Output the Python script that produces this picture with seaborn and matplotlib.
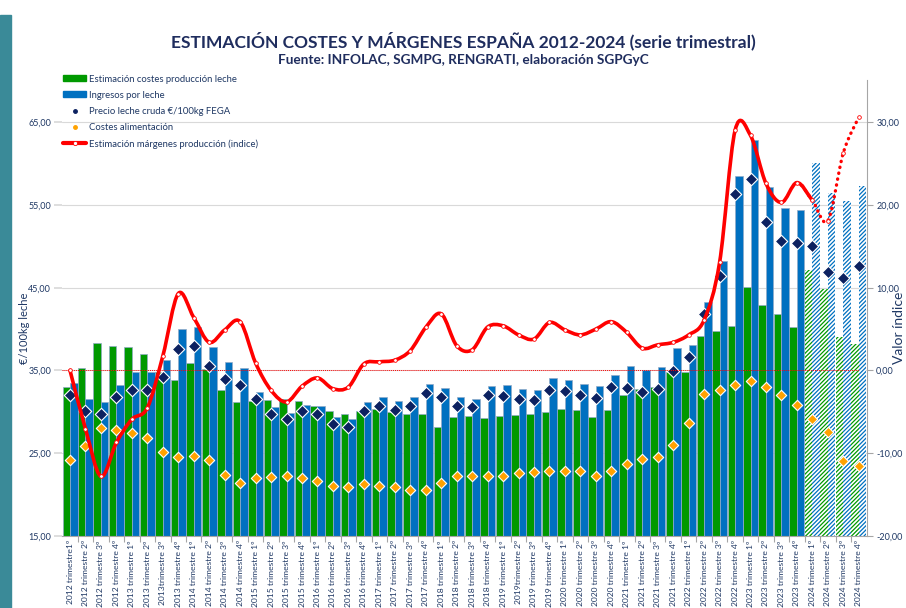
import numpy as np
import pandas as pd
import matplotlib
matplotlib.use('Agg')
import matplotlib.pyplot as plt
import seaborn as sns
from matplotlib.path import Path
from matplotlib.patches import PathPatch, Patch, Rectangle
from matplotlib.lines import Line2D
from matplotlib.ticker import FuncFormatter, FixedLocator

# datos trimestrales
trimestres = [
    '2012 trimestre1º', '2012 trimestre 2º', '2012 trimestre 3º', '2012 trimestre 4º',
    '2013 trimestre 1º', '2013 trimestre 2º', '2013trimestre 3º', '2013 trimestre 4º',
    '2014 trimestre 1º', '2014 trimestre 2º', '2014 trimestre 3º', '2014 trimestre 4º',
    '2015 trimestre 1º', '2015 trimestre 2º', '2015 trimestre 3º', '2015 trimestre 4º',
    '2016 trimestre 1º', '2016 trimestre 2º', '2016 trimestre 3º', '2016 trimestre 4º',
    '2017 trimestre 1º', '2017 trimestre 2º', '2017 trimestre 3º', '2017 trimestre 4º',
    '2018 trimestre 1º', '2018 trimestre 2º', '2018 trimestre 3º', '2018 trimestre 4º',
    '2019 trimestre 1º', '2019trimestre 2º', '2019 trimestre 3º', '2019 trimestre 4º',
    '2020 trimestre 1ª', '2020 trimestre 2º', '2020 trimestre 3º', '2020 trimestre 4º',
    '2021 trimestre 1º', '2021 trimestre 2º', '2021 trimestre 3º', '2021 trimestre 4º',
    '2022 trimestre 1º', '2022 trimestre 2º', '2022 trimestre 3º', '2022 trimestre 4º',
    '2023 trimestre 1º', '2023 trimestre 2º', '2023 trimestre 3º', '2023 trimestre 4º',
    '2024 trimestre 1º', '2024 trimestre 2º', '2024 trimestre 3º', '2024 trimestre 4º',
]

costes_produccion = [
    33.0, 35.3, 38.3, 37.9, 37.8, 37.0, 34.8, 33.8, 35.9, 35.2, 32.6, 31.2,
    31.3, 31.4, 31.5, 31.3, 30.7, 30.15, 29.8, 30.15, 30.4, 30.0, 29.8, 29.7,
    28.2, 29.35, 29.5, 29.3, 29.5, 29.6, 29.8, 30.0, 30.4, 30.2, 29.4, 30.2,
    32.0, 32.8, 33.0, 34.8, 34.85, 39.2, 39.8, 40.4, 45.05, 42.9, 41.8, 40.25,
    47.15, 44.85, 39.0, 38.2,
]
ingresos_leche = [
    33.5, 31.6, 31.15, 33.25, 34.8, 34.8, 36.3, 40.05, 40.2, 37.8, 36.0, 35.3,
    32.4, 30.6, 29.9, 30.85, 30.7, 29.4, 29.15, 31.2, 31.75, 31.35, 31.8, 33.4,
    32.9, 31.75, 31.55, 33.1, 33.25, 32.8, 32.7, 34.1, 33.9, 33.4, 33.1, 34.4,
    35.5, 35.05, 35.4, 37.7, 38.05, 43.3, 48.2, 58.5, 62.8, 57.2, 54.65, 54.4,
    60.1, 56.45, 55.5, 57.35,
]
precio_leche = [
    32.0, 30.15, 29.75, 31.8, 32.7, 32.7, 34.2, 37.6, 38.0, 35.6, 34.0, 33.2,
    31.6, 29.8, 29.15, 30.1, 29.7, 28.5, 28.2, 30.15, 30.7, 30.25, 30.7, 32.3,
    31.8, 30.7, 30.6, 32.0, 31.95, 31.5, 31.4, 32.7, 32.5, 32.0, 31.7, 33.0,
    32.9, 32.4, 32.8, 34.9, 36.6, 41.8, 46.4, 56.3, 58.15, 53.0, 50.6, 50.45,
    50.0, 46.95, 46.2, 47.65,
]
costes_alimentacion = [
    24.15, 25.9, 28.1, 27.8, 27.45, 26.85, 25.15, 24.55, 24.7, 24.2, 22.4, 21.45,
    22.05, 22.1, 22.2, 22.05, 21.6, 21.1, 20.9, 21.25, 21.1, 20.9, 20.6, 20.6,
    21.35, 22.2, 22.3, 22.2, 22.3, 22.6, 22.7, 22.85, 22.9, 22.8, 22.25, 22.8,
    23.75, 24.35, 24.5, 26.0, 28.65, 32.2, 32.65, 33.2, 33.75, 32.95, 32.05, 30.85,
    29.1, 27.6, 24.05, 23.5,
]
margenes_indice = [
    0.0, -7.07, -12.8, -8.7, -5.9, -4.5, 1.75, 9.3, 6.4, 3.4, 4.9, 5.9,
    0.9, -2.4, -3.8, -1.9, -0.9, -2.2, -2.0, 0.8, 1.05, 1.25, 2.4, 5.2,
    6.85, 3.0, 2.5, 5.25, 5.4, 4.3, 3.8, 5.8, 4.9, 4.3, 5.0, 5.9,
    4.6, 2.7, 3.1, 3.4, 4.3, 6.1, 13.05, 29.0, 28.4, 22.6, 20.3, 22.7,
    20.55, 18.1, 26.3, 30.6,
]
N_PREVISION = 4  # 2024: barras rayadas y línea punteada

VERDE = '#009900'
AZUL = '#0070c0'
MARINO = '#0c2160'
NARANJA = '#ffa200'
ROJO = '#ff0000'
TEXTO = '#1f3864'
GRIS = '#a6a6a6'

sns.set_theme(style='white')
plt.rcParams['font.family'] = ['Lato', 'DejaVu Sans']
plt.rcParams['hatch.linewidth'] = 0.9


def formato_coma(v, pos=None):
    return f"{v:.2f}".replace('.', ',')


def curva_suave(xs, ys):
    # segmentos Bezier tipo Catmull-Rom (como la línea suavizada de Excel)
    segs = []
    n = len(xs)
    for i in range(n - 1):
        a = max(i - 1, 0)
        d = min(i + 2, n - 1)
        p1 = (xs[i], ys[i])
        p2 = (xs[i + 1], ys[i + 1])
        c1 = (xs[i] + (xs[i + 1] - xs[a]) / 6, ys[i] + (ys[i + 1] - ys[a]) / 6)
        c2 = (xs[i + 1] - (xs[d] - xs[i]) / 6, ys[i + 1] - (ys[d] - ys[i]) / 6)
        segs.append((p1, c1, c2, p2))
    return segs


def segs_a_path(segs):
    verts = [segs[0][0]]
    codes = [Path.MOVETO]
    for s in segs:
        verts += [s[1], s[2], s[3]]
        codes += [Path.CURVE4] * 3
    return Path(verts, codes)


W, H = 906, 608
fig = plt.figure(figsize=(W / 100, H / 100), dpi=100)
ax = fig.add_axes([62.3 / W, 72 / H, (866.5 - 62.3) / W, 456 / H])

# franja lateral
fig.patches.append(Rectangle((0, 0), 11 / W, (H - 15) / H, transform=fig.transFigure,
                             color='#3a8a98', zorder=0))

n = len(trimestres)
idx = np.arange(n)
df_barras = pd.DataFrame({
    'trimestre': trimestres * 2,
    'valor': costes_produccion + ingresos_leche,
    'serie': ['costes'] * n + ['ingresos'] * n,
})

sns.barplot(data=df_barras, x='trimestre', y='valor', hue='serie', order=trimestres,
            hue_order=['costes', 'ingresos'], palette=[VERDE, AZUL], saturation=1,
            width=0.97, gap=0, edgecolor='#93abc8', linewidth=0.5, legend=False,
            err_kws={'linewidth': 0}, ax=ax)

# previsión 2024 rayada
for cont, col in zip(ax.containers, [VERDE, AZUL]):
    for i, bar in enumerate(cont.patches):
        if i >= n - N_PREVISION:
            bar.set_facecolor('white')
            bar.set_edgecolor(col)
            bar.set_linewidth(0)
            bar.set_hatch('////////')

sns.scatterplot(x=idx, y=precio_leche, marker='D', s=40, color=MARINO,
                edgecolor='white', linewidth=0.8, zorder=3, ax=ax, legend=False)
sns.scatterplot(x=idx, y=costes_alimentacion, marker='D', s=28, color=NARANJA,
                edgecolor='white', linewidth=0.8, zorder=3, ax=ax, legend=False)

ax.set_xlim(-0.5, n - 0.5)
ax.set_ylim(15, 70.1)
ax.yaxis.set_major_locator(FixedLocator([15, 25, 35, 45, 55, 65]))
ax.yaxis.set_major_formatter(FuncFormatter(formato_coma))
ax.set_axisbelow(True)
ax.yaxis.grid(True, color='#d9d9d9', linewidth=0.8)
ax.xaxis.grid(False)
for s in ['left', 'top', 'right']:
    ax.spines[s].set_visible(False)
ax.spines['bottom'].set_color(GRIS)
ax.spines['bottom'].set_linewidth(0.8)
ax.set_xlabel('')
ax.set_ylabel('')
ax.set_xticks(idx)
ax.set_xticklabels(trimestres, rotation=90, fontsize=6.1, color=TEXTO, va='top', ha='center')
ax.set_xticks(idx[:-1] + 0.5, minor=True)
ax.tick_params(axis='x', which='major', length=0, pad=3)
ax.tick_params(axis='x', which='minor', length=4, color=GRIS, width=0.8, bottom=True)
ax.tick_params(axis='y', length=6, color='#d9d9d9', labelsize=6.5, labelcolor=TEXTO, left=True, pad=2)

# eje derecho: índice de márgenes
ax2 = ax.twinx()
ax2.set_ylim(-20, 35.1)
ax2.set_yticks([-20, -10, 0, 10, 20, 30])
ax2.yaxis.set_major_formatter(FuncFormatter(formato_coma))
ax2.grid(False)
for s in ['left', 'top', 'bottom']:
    ax2.spines[s].set_visible(False)
ax2.spines['right'].set_color(GRIS)
ax2.spines['right'].set_linewidth(0.8)
ax2.tick_params(axis='y', direction='out', length=4, color=GRIS, width=0.8,
                labelsize=6.5, labelcolor=TEXTO, right=True, pad=3)

ax2.hlines(0, -0.5, n - 1, colors=ROJO, linestyles=(0, (1, 1)), linewidth=0.7, zorder=2)

segs = curva_suave(idx.astype(float), margenes_indice)
corte = n - N_PREVISION
ax2.add_patch(PathPatch(segs_a_path(segs[:corte]), fill=False, edgecolor=ROJO,
                        linewidth=2.6, capstyle='round', joinstyle='round', zorder=4))
ax2.add_patch(PathPatch(segs_a_path(segs[corte - 1:]), fill=False, edgecolor=ROJO,
                        linewidth=2.4, linestyle=(0, (0.1, 1.7)), capstyle='round', zorder=4))
sns.scatterplot(x=idx, y=margenes_indice, marker='o', s=7, color='white',
                edgecolor=ROJO, linewidth=0.6, zorder=5, ax=ax2, legend=False)
ax2.set_xlim(-0.5, n - 0.5)

# títulos
fig.text(0.512, 1 - 41 / H, 'ESTIMACIÓN COSTES Y MÁRGENES ESPAÑA 2012-2024 (serie trimestral)',
         ha='center', va='center', fontsize=12.5, fontweight='bold', color='#1f2d5e')
fig.text(0.512, 1 - 60 / H, 'Fuente: INFOLAC, SGMPG, RENGRATI, elaboración SGPGyC',
         ha='center', va='center', fontsize=9.8, fontweight='bold', color='#1f2d5e')
fig.text(24 / W, 1 - 328 / H, '€/100kg leche', rotation=90, ha='center', va='center',
         fontsize=8, color=TEXTO)
fig.text(905 / W, 1 - 328 / H, 'Valor índice', rotation=90, ha='right', va='center',
         fontsize=10, color=TEXTO)

handles = [
    Patch(facecolor=VERDE, edgecolor=VERDE),
    Patch(facecolor=AZUL, edgecolor=AZUL),
    Line2D([], [], marker='o', color=MARINO, linestyle='', markersize=2.5),
    Line2D([], [], marker='o', color=NARANJA, linestyle='', markersize=2.5),
    Line2D([], [], color=ROJO, linewidth=3, marker='o', markersize=3,
           markerfacecolor='white', markeredgecolor=ROJO, markeredgewidth=0.6),
]
labels = [
    'Estimación costes producción leche',
    'Ingresos por leche',
    'Precio leche cruda €/100kg FEGA',
    'Costes alimentación',
    'Estimación márgenes producción (indice)',
]
fig.legend(handles, labels, loc='upper left', bbox_to_anchor=(58 / W, 1 - 70 / H),
           frameon=False, fontsize=6.8, labelcolor=TEXTO, handlelength=2.5,
           handleheight=0.6, handletextpad=0.3, labelspacing=0.75, borderpad=0)

fig.savefig('out.png', dpi=100)
